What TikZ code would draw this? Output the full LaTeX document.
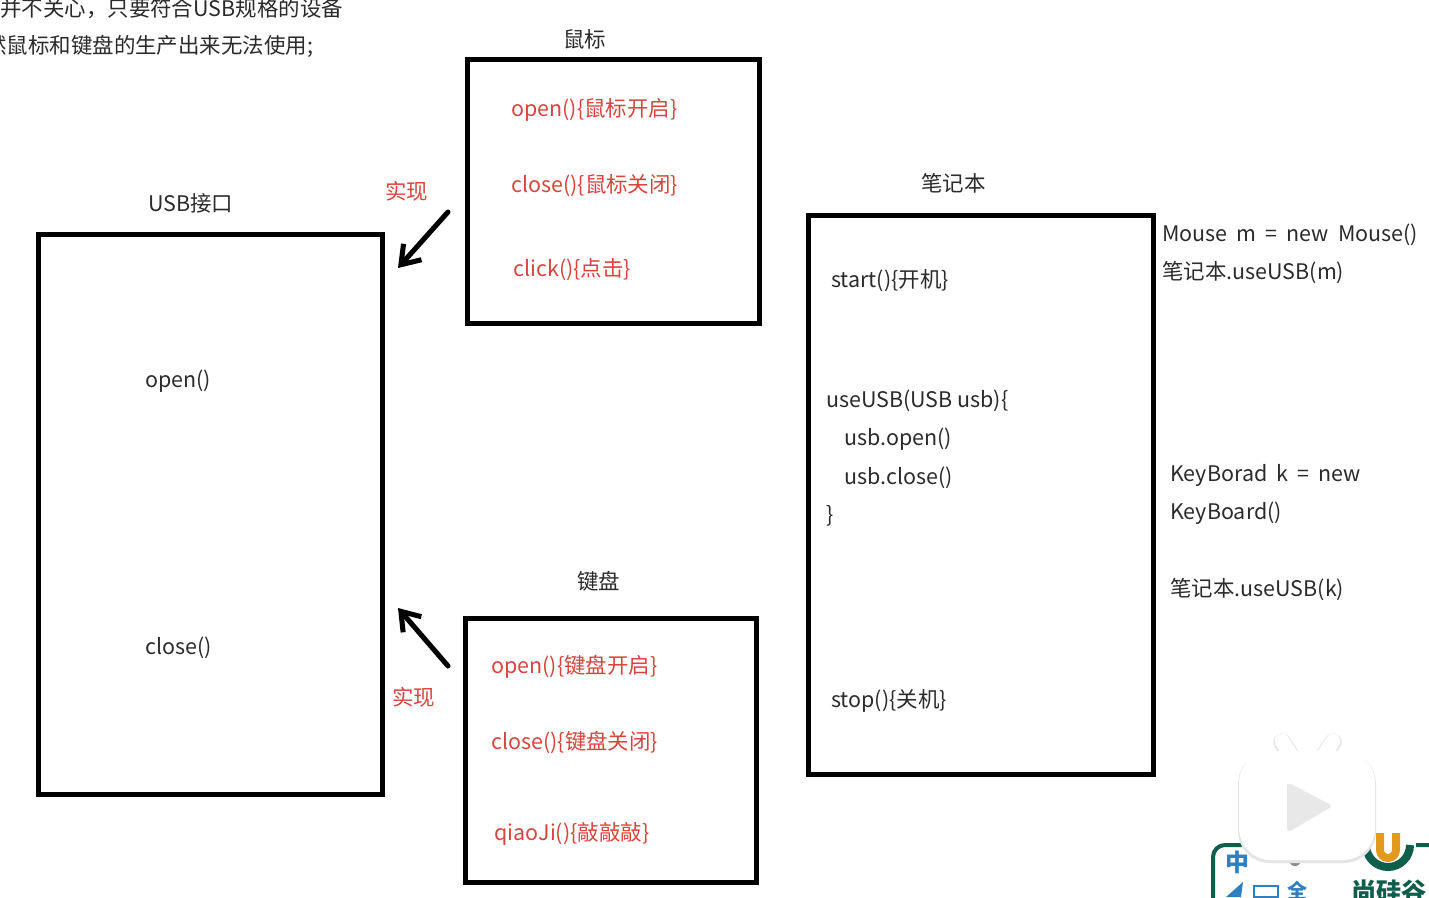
\documentclass[tikz,border=0pt]{standalone}
\usepackage{fontspec}
\setmainfont[WordSpace=1.9]{Noto Sans CJK SC}
\usetikzlibrary{arrows.meta}
\definecolor{TextDark}{HTML}{2B2B2B}
\definecolor{TextRed}{HTML}{D8453E}
\definecolor{LogoGreen}{HTML}{0F5E4C}
\definecolor{LogoBlue}{HTML}{2F7FC1}
\definecolor{LogoOrange}{HTML}{E29A1E}
\definecolor{IconShade}{HTML}{E8E8E8}
\tikzset{
	blackbox/.style={draw=black,line width=3.7pt,inner sep=0pt,fill=white},
	plaintext/.style={anchor=west,inner sep=0pt,text height=12.4pt,text depth=0pt,text=TextDark,font=\fontsize{16.1}{20}\selectfont},
	redtext/.style={plaintext,text=TextRed},
	logotext/.style={anchor=center,inner sep=0pt},
	implarrow/.style={line width=3.8pt,line cap=round,-{Straight Barb[length=13pt,width=18pt,line width=3.8pt]}}
}

\begin{document}
\begin{tikzpicture}[x=0.75pt,y=-0.75pt]
	\useasboundingbox (0,0) rectangle (1429,897);
	\clip (0,0) rectangle (1429,897);
	\fill[white] (0,0) rectangle (1429,897);

	% lines cut off at the top
	\node[plaintext] (noteOne) at (0,8) {并不关心，只要符合USB规格的设备};
	\node[plaintext] (noteTwo) at (-15,45) {然鼠标和键盘的生产出来无法使用;};

	% USB
	\node[blackbox,minimum width=258.5pt,minimum height=420pt] (usbBox) at (210.5,514.5) {};
	\node[plaintext] (usbTitle) at (148,203) {USB接口};
	\node[plaintext] (usbOpen) at (145,379) {open()};
	\node[plaintext] (usbClose) at (145,646) {close()};

	% mouse
	\node[blackbox,minimum width=219pt,minimum height=198pt] (mouseBox) at (613.5,191.5) {};
	\node[plaintext] (mouseTitle) at (563,39) {鼠标};
	\node[redtext] (mouseOpen) at (511,108) {open()\{鼠标开启\}};
	\node[redtext] (mouseClose) at (511,184) {close()\{鼠标关闭\}};
	\node[redtext] (mouseClick) at (513,268) {click()\{点击\}};

	% keyboard
	\node[blackbox,minimum width=218pt,minimum height=198pt] (keyBox) at (611,750.5) {};
	\node[plaintext] (keyTitle) at (577,581) {键盘};
	\node[redtext] (keyOpen) at (491,665) {open()\{键盘开启\}};
	\node[redtext] (keyClose) at (491,741) {close()\{键盘关闭\}};
	\node[redtext] (keyQiao) at (494,832) {qiaoJi()\{敲敲敲\}};

	% notebook
	\node[blackbox,minimum width=258.5pt,minimum height=419pt] (noteBox) at (981,495) {};
	\node[plaintext] (noteTitle) at (921,183) {笔记本};
	\node[plaintext] (noteStart) at (831,279) {start()\{开机\}};
	\node[plaintext] (noteUse) at (826,399) {useUSB(USB\hspace{0.22em}usb)\{};
	\node[plaintext] (noteUsbOpen) at (844,437) {usb.open()};
	\node[plaintext] (noteUsbClose) at (844,476) {usb.close()};
	\node[plaintext] (noteBrace) at (826,514) {\}};
	\node[plaintext] (noteStop) at (831,699) {stop()\{关机\}};

	% calls beside the notebook
	\node[plaintext] (callMouse) at (1162,233) {Mouse m = new Mouse()};
	\node[plaintext] (callMouseUse) at (1162,271) {笔记本.useUSB(m)};
	\node[plaintext] (callKey) at (1170,473) {KeyBorad k = new};
	\node[plaintext] (callKeyNew) at (1170,511) {KeyBoard()};
	\node[plaintext] (callKeyUse) at (1170,588) {笔记本.useUSB(k)};

	% arrows
	\coordinate (mouseFrom) at (448,212);
	\coordinate (mouseTo) at (398,268);
	\coordinate (keyFrom) at (448,666);
	\coordinate (keyTo) at (398,608);
	\draw[implarrow] (mouseFrom) -- (mouseTo);
	\draw[implarrow] (keyFrom) -- (keyTo);
	\node[redtext] (mouseImpl) at (385,191) {实现};
	\node[redtext] (keyImpl) at (392,697) {实现};

	% logo in the corner
	\draw[LogoGreen,line width=3pt,rounded corners=9pt] (1213,900) -- (1213,845) -- (1429,845);
	\node[logotext,text=LogoBlue,font=\bfseries\fontsize{18}{20}\selectfont] (logoZh) at (1237,862) {中};
	\node[logotext,text=LogoBlue,font=\bfseries\fontsize{14}{20}\selectfont] (logoComma) at (1268,858) {，};
	\node[logotext,text=LogoBlue,font=\bfseries\fontsize{15}{20}\selectfont] (logoFull) at (1297,891) {全};
	\fill[black!45] (1295,860) circle (6);
	\draw[LogoBlue,line width=1.5pt] (1254,886) rectangle (1278,897);
	\fill[LogoBlue] (1226,897) -- (1243,882) -- (1241,897) -- cycle;
	\fill[white] (1388,845) circle (28);
	\draw[LogoGreen,line width=6pt] (1366,845) arc[start angle=180,end angle=0,radius=22];
	\draw[LogoOrange,line width=6pt] (1380,833) -- (1380,850) arc[start angle=180,end angle=0,radius=8] -- (1396,833);
	\node[logotext,text=LogoGreen,font=\bfseries\fontsize{19}{20}\selectfont] (logoName) at (1389,892) {尚硅谷};

	% play icon on top
	\draw[black!10,line width=13pt,line cap=round] (1282,742) -- (1297,765);
	\draw[black!10,line width=13pt,line cap=round] (1333,742) -- (1318,765);
	\draw[white,line width=11pt,line cap=round] (1282,741) -- (1297,765);
	\draw[white,line width=11pt,line cap=round] (1333,741) -- (1318,765);
	\fill[black!10,rounded corners=24pt] (1238,752) rectangle (1376,863);
	\fill[white,rounded corners=24pt] (1239,751) rectangle (1375,860);
	\fill[IconShade,rounded corners=3pt] (1287,782) -- (1333,806) -- (1287,833) -- cycle;
\end{tikzpicture}
\end{document}
